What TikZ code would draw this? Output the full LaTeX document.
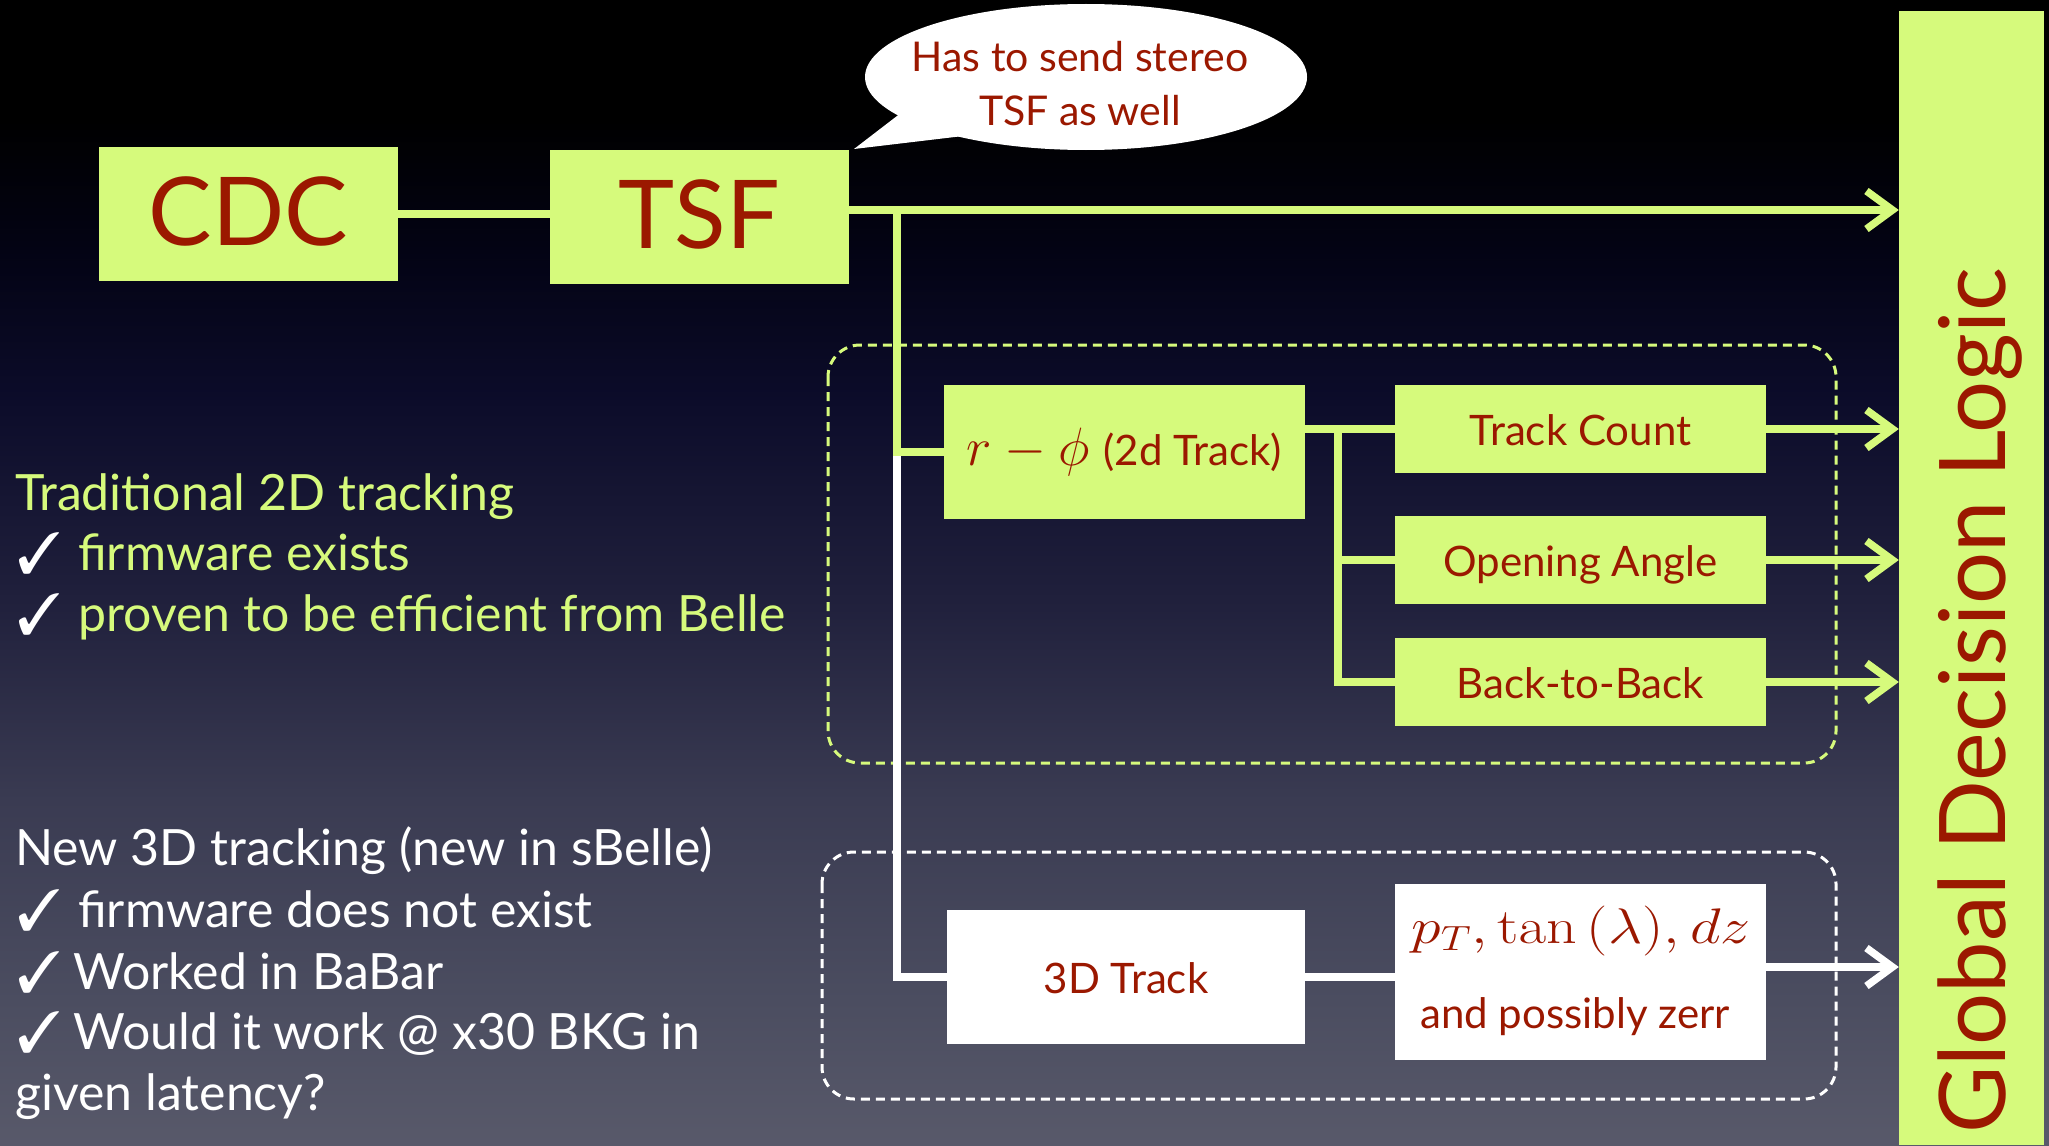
\RequirePackage{fix-cm}
\documentclass[tikz,border=0pt]{standalone}
\usepackage[no-math]{fontspec}
\setmainfont{Lato}
\usepackage{pifont}
\usepackage{graphicx}
\usetikzlibrary{arrows.meta,shapes.geometric}

\definecolor{boxlime}{RGB}{214,250,124}
\definecolor{boxred}{RGB}{155,24,0}
% slide background, bottom (0bp) to top (100bp); 25bp..75bp covers the page
\definecolor{bgA}{RGB}{88,89,106}
\definecolor{bgB}{RGB}{75,77,96}
\definecolor{bgC}{RGB}{58,59,82}
\definecolor{bgD}{RGB}{32,32,60}
\definecolor{bgE}{RGB}{12,12,42}
\definecolor{bgF}{RGB}{3,3,20}
\definecolor{bgG}{RGB}{0,0,0}
\pgfdeclareverticalshading{slidebg}{100bp}{%
  color(0bp)=(bgA); color(25bp)=(bgA); color(31.33bp)=(bgB);
  color(40.07bp)=(bgC); color(48.8bp)=(bgD); color(57.53bp)=(bgE);
  color(64.08bp)=(bgF); color(69.76bp)=(bgG); color(100bp)=(bgG)}

\begin{document}
\begin{tikzpicture}[x=1pt,y=-1pt,
  lbl/.style={fill=boxlime, text=boxred, inner sep=0pt,
    font=\fontsize{42}{50}\selectfont, text height=33pt, text depth=0pt},
  wlbl/.style={lbl, fill=white},
  bigbox/.style={fill=boxlime, text=boxred, inner sep=0pt,
    minimum width=299, minimum height=134,
    font=\fontsize{95}{110}\selectfont, text height=62pt, text depth=0pt},
  ylink/.style={draw=boxlime, line width=7.5pt},
  wlink/.style={draw=white, line width=7.5pt},
  arrowend/.style={-{Straight Barb[length=26pt,width=38pt]}},
  grpframe/.style={line width=3pt, dash pattern=on 9pt off 6pt, rounded corners=32pt},
  lefttext/.style={anchor=base west, inner sep=0pt, font=\fontsize{50}{60}\selectfont},
  chk/.style={anchor=base west, inner sep=0pt, text=white, text height=38pt, text depth=0pt,
    font=\fontsize{58}{66}\selectfont},
  bubbletext/.style={anchor=base, inner sep=0pt, text=boxred, font=\fontsize{41}{50}\selectfont}]

% background and page size
\fill[shading=slidebg] (0,0) rectangle (2049,1145);
\useasboundingbox (0,0) rectangle (2049,1145);

% group frames
\draw[grpframe, draw=boxlime] (828,345) rectangle (1836,763);
\draw[grpframe, draw=white] (822,852) rectangle (1836,1099);

% speech bubble
\node[ellipse, fill=white, minimum width=442, minimum height=146, inner sep=0pt] (bubble) at (1086,77) {};
\fill[white] (854,149) -- (910,106) -- (980,134) -- cycle;
\node[bubbletext] (bubbleA) at (1080,72) {Has to send stereo};
\node[bubbletext] (bubbleB) at (1080,125) {TSF as well};

% main chain
\node[bigbox] (cdc) at (248.5,214) {CDC};
\node[bigbox] (tsf) at (699.5,217) {TSF};

% 2D branch
\node[lbl, minimum width=361, minimum height=134, text height=36pt, text depth=10pt] (rphi) at (1124.5,452)
  {{\fontsize{54}{60}\selectfont$r-\phi$}\hspace{14pt}(2d Track)\hspace{16pt}};
\node[lbl, minimum width=371, minimum height=88] (tc) at (1580.5,429) {Track Count};
\node[lbl, minimum width=371, minimum height=88] (oa) at (1580.5,560) {Opening Angle};
\node[lbl, minimum width=371, minimum height=88] (bb) at (1580.5,682) {Back-to-Back};

% 3D branch
\node[wlbl, minimum width=358, minimum height=134] (trk3d) at (1126,977) {3D Track};
\node[fill=white, minimum width=371, minimum height=176, inner sep=0pt] (ptbox) at (1580.5,972) {};
\node[anchor=base, inner sep=0pt, text=boxred] (ptmath) at (1581,943)
  {\fontsize{50}{60}\selectfont\scalebox{1.2}[1]{$p_T, \tan\,(\lambda), dz$}};
\node[anchor=base, inner sep=0pt, text=boxred, font=\fontsize{42}{50}\selectfont] (ptnote) at (1575,1028) {and possibly zerr};

% decision logic
\node[fill=boxlime, minimum width=145, minimum height=1134, inner sep=0pt] (gdl) at (1971.5,578) {};
\node[rotate=90, anchor=base, inner sep=0pt, text=boxred, font=\fontsize{92}{100}\selectfont] (gdltxt) at (2005,701) {Global Decision Logic};

% connectors
\coordinate (j1) at (897,210);
\coordinate (j2) at (897,456);
\coordinate (j3) at (1338,429);
\draw[ylink] (cdc.east) -- (tsf.west |- cdc.east);
\draw[ylink, arrowend] ([yshift=7pt]tsf.east) -- ([yshift=7pt]tsf.east -| gdl.west);
\draw[ylink] (j1) |- (rphi.west);
\draw[wlink] (j2) |- (trk3d.west);
\draw[ylink] (rphi.east |- tc.west) -- (tc.west);
\draw[ylink] (j3) |- (oa.west);
\draw[ylink] (j3) |- (bb.west);
\draw[ylink, arrowend] (tc.east) -- (tc.east -| gdl.west);
\draw[ylink, arrowend] (oa.east) -- (oa.east -| gdl.west);
\draw[ylink, arrowend] (bb.east) -- (bb.east -| gdl.west);
\draw[wlink] (trk3d.east) -- (trk3d.east -| ptbox.west);
\draw[wlink, arrowend] ([yshift=5pt]ptbox.east) -- ([yshift=5pt]ptbox.east -| gdl.west);

% notes
\node[lefttext, text=boxlime] (tradA) at (15,510) {Traditional 2D tracking};
\node[chk] (chkA) at (17,573) {\ding{51}};
\node[lefttext, text=boxlime] (tradB) at (78,570) {firmware exists};
\node[chk] (chkB) at (17,634) {\ding{51}};
\node[lefttext, text=boxlime] (tradC) at (78,631) {proven to be efficient from Belle};
\node[lefttext, text=white] (newA) at (15,865) {New 3D tracking (new in sBelle)};
\node[chk] (chkC) at (17,930) {\ding{51}};
\node[lefttext, text=white] (newB) at (78,927) {firmware does not exist};
\node[chk] (chkD) at (17,992) {\ding{51}};
\node[lefttext, text=white] (newC) at (73,989) {Worked in BaBar};
\node[chk] (chkE) at (17,1052) {\ding{51}};
\node[lefttext, text=white] (newD) at (73,1049) {Would it work @ x30 BKG in};
\node[lefttext, text=white] (newE) at (15,1110) {given latency?};
\end{tikzpicture}
\end{document}
